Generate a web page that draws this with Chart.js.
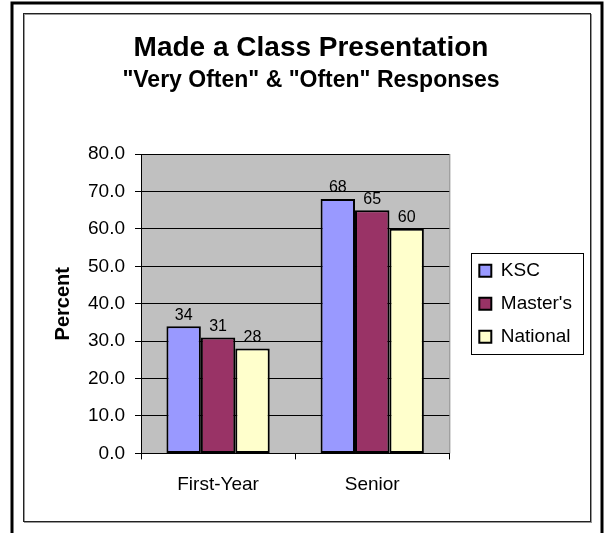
<!DOCTYPE html>
<html lang="en">
<head>
<meta charset="UTF-8" />
<title>Made a Class Presentation</title>
<script src="https://cdn.jsdelivr.net/npm/chart.js"></script>
<style>
  body { margin: 0; background: #fff; }
  #wrap { width: 608px; height: 533px; }
</style>
</head>
<body>
<div id="wrap"><canvas id="chart" width="608" height="533"></canvas></div>
<script>
  const groups = ["First-Year", "Senior"];
  const seriesNames = ["KSC", "Master's", "National"];
  const kscValues = [34, 68];
  const mastersValues = [31, 65];
  const nationalValues = [28, 60];
  const seriesColors = ["#9999FF", "#993366", "#FFFFCC"];
  const yMin = 0;
  const yMax = 80;
  const yStep = 10;

  Chart.defaults.font.family = "'Liberation Sans', Arial, sans-serif";
  Chart.defaults.color = "#000";

  // frame, plot background and the legend border
  const framePlugin = {
    id: "frame",
    beforeDraw(chart) {
      const ctx = chart.ctx;
      const a = chart.chartArea;
      ctx.save();
      ctx.fillStyle = "#fff";
      ctx.fillRect(0, 0, chart.width, chart.height);
      ctx.strokeStyle = "#000";
      ctx.lineWidth = 3;
      ctx.strokeRect(12, 3, 590, 560);
      ctx.lineWidth = 1;
      ctx.strokeStyle = "#999";
      ctx.strokeRect(24.5, 14.5, 567, 508);
      ctx.strokeStyle = "#222";
      ctx.strokeRect(23.5, 13.5, 567, 508);
      ctx.fillStyle = "#C0C0C0";
      ctx.fillRect(a.left, a.top, a.right - a.left, a.bottom - a.top);
      ctx.strokeStyle = "#808080";
      ctx.beginPath();
      ctx.moveTo(a.right + 0.5, a.top);
      ctx.lineTo(a.right + 0.5, a.bottom);
      ctx.stroke();
      ctx.restore();
    },
    afterDraw(chart) {
      const boxes = chart.legend && chart.legend.legendHitBoxes;
      if (!boxes || !boxes.length) return;
      const ctx = chart.ctx;
      let x0 = Infinity, y0 = Infinity, x1 = -Infinity, y1 = -Infinity;
      boxes.forEach((b) => {
        x0 = Math.min(x0, b.left);
        y0 = Math.min(y0, b.top);
        x1 = Math.max(x1, b.left + b.width);
        y1 = Math.max(y1, b.top + b.height);
      });
      ctx.save();
      ctx.strokeStyle = "#000";
      ctx.lineWidth = 1;
      ctx.strokeRect(Math.round(x0 - 8) + 0.5, Math.round(y0 - 8) + 0.5,
        Math.round(x1 - x0 + 19), Math.round(y1 - y0 + 16));
      ctx.restore();
    }
  };

  // value labels above each bar
  const valueLabels = {
    id: "valueLabels",
    afterDatasetsDraw(chart) {
      const ctx = chart.ctx;
      ctx.save();
      ctx.font = "16px 'Liberation Sans', Arial, sans-serif";
      ctx.fillStyle = "#000";
      ctx.textAlign = "center";
      ctx.textBaseline = "middle";
      chart.data.datasets.forEach((ds, i) => {
        chart.getDatasetMeta(i).data.forEach((bar, j) => {
          ctx.fillText(String(ds.data[j]), bar.x, bar.y - 11);
        });
      });
      ctx.restore();
    }
  };

  const valueSets = [kscValues, mastersValues, nationalValues];

  new Chart(document.getElementById("chart"), {
    type: "bar",
    data: {
      labels: groups,
      datasets: seriesNames.map((name, i) => ({
        label: name,
        data: valueSets[i],
        backgroundColor: seriesColors[i],
        borderColor: "#000",
        borderWidth: 2,
        borderSkipped: false,
        categoryPercentage: 0.67,
        barPercentage: 1.0
      }))
    },
    options: {
      responsive: false,
      animation: false,
      layout: { padding: { left: 40, right: 26, top: 20, bottom: 23.6 } },
      plugins: {
        title: {
          display: true,
          text: "Made a Class Presentation",
          font: { size: 28, weight: "bold" },
          padding: { top: 11.2, bottom: 0 }
        },
        subtitle: {
          display: true,
          text: '"Very Often" & "Often" Responses',
          font: { size: 23, weight: "bold" },
          color: "#000",
          padding: { top: 2.4, bottom: 59.2 }
        },
        legend: {
          position: "right",
          fullSize: false,
          maxWidth: 140,
          labels: {
            font: { size: 19 },
            boxWidth: 12,
            boxHeight: 12,
            padding: 14
          }
        },
        tooltip: { enabled: false }
      },
      scales: {
        x: {
          grid: {
            offset: true,
            drawOnChartArea: false,
            color: "#000",
            tickLength: 6
          },
          border: { color: "#000" },
          ticks: { font: { size: 19 }, padding: 13.6, maxRotation: 0 }
        },
        y: {
          min: yMin,
          max: yMax,
          grid: { color: "#000", tickLength: 6 },
          border: { color: "#000" },
          ticks: {
            stepSize: yStep,
            font: { size: 19 },
            padding: 10,
            callback: (v) => Number(v).toFixed(1)
          },
          title: {
            display: true,
            text: "Percent",
            font: { size: 20, weight: "bold" },
            padding: { top: 11.5, bottom: 12.5 }
          },
          afterFit(scale) { scale.width = 101; }
        },
        gap: {
          position: "right",
          display: true,
          grid: { display: false },
          ticks: { display: false },
          border: { display: false },
          afterFit(scale) { scale.width = 16; }
        }
      }
    },
    plugins: [framePlugin, valueLabels]
  });
</script>
</body>
</html>
